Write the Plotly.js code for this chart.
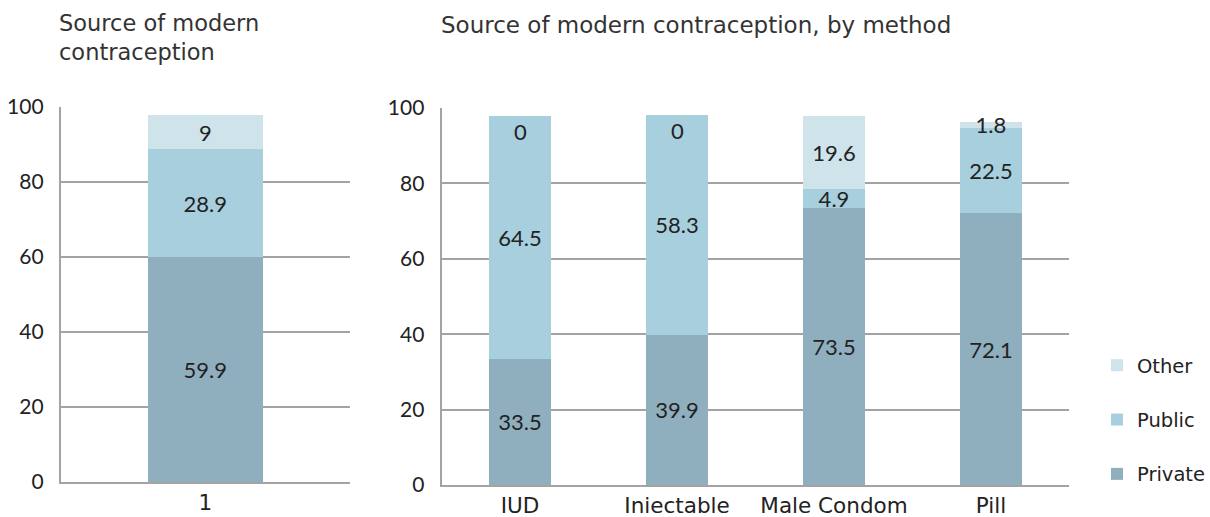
<!DOCTYPE html>
<html>
<head>
<meta charset="utf-8">
<script src="https://cdn.plot.ly/plotly-3.0.1.min.js"></script>
<style>html,body{margin:0;padding:0;background:#fff;}#chart{width:1210px;height:517px;}</style>
</head>
<body>
<div id="chart"></div>
<script>
// ---- data ----
const overallCategory = ['1'];
const overallPrivate = [59.9];
const overallPublic = [28.9];
const overallOther = [9];

const methodCategories = ['IUD', 'Iniectable', 'Male Condom', 'Pill'];
const methodPrivate = [33.5, 39.9, 73.5, 72.1];
const methodPublic = [64.5, 58.3, 4.9, 22.5];
const methodOther = [0, 0, 19.6, 1.8];

const seriesNames = ['Private', 'Public', 'Other'];
const seriesColors = ['#8fafbf', '#a8cfdd', '#cfe3eb'];
const legendRanks = [3, 2, 1];

const titleLeft = 'Source of modern<br>contraception';
const titleRight = 'Source of modern contraception, by method';

// ---- build ----
const NUMFONT = 'Lato, "Open Sans", sans-serif';
const WORDFONT = '"DejaVu Sans", Lato, sans-serif';
const TXT = '#222222';
const GRID = '#a3a3a3';

function barTrace(x, y, i, xa, ya, showlegend) {
  const t = {
    type: 'bar', x: x, y: y, name: seriesNames[i],
    xaxis: xa, yaxis: ya,
    marker: {color: seriesColors[i], line: {width: 0}},
    text: y.map(v => v === 0 ? '' : String(v)),
    textposition: 'inside', insidetextanchor: 'middle',
    constraintext: 'none', textangle: 0,
    textfont: {family: NUMFONT, size: 22, color: TXT},
    showlegend: showlegend,
    hoverinfo: 'x+y+name'
  };
  if (showlegend) { t.legendgroup = seriesNames[i]; t.legendrank = legendRanks[i]; }
  return t;
}

const leftSeries = [overallPrivate, overallPublic, overallOther];
const rightSeries = [methodPrivate, methodPublic, methodOther];
const traces = [];
leftSeries.forEach((s, i) => traces.push(barTrace(overallCategory, s, i, 'x', 'y', false)));
rightSeries.forEach((s, i) => traces.push(barTrace(methodCategories, s, i, 'x2', 'y2', true)));

// labels for zero-valued top segments (placed at top of stack)
const annotations = [];
methodCategories.forEach((c, k) => {
  if (methodOther[k] === 0) {
    const top = methodPrivate[k] + methodPublic[k] + methodOther[k];
    annotations.push({xref: 'x2', yref: 'y2', x: c, y: top, yanchor: 'top', xanchor: 'center',
      text: String(methodOther[k]), showarrow: false,
      font: {family: NUMFONT, size: 22, color: TXT}});
  }
});
annotations.push({xref: 'paper', yref: 'paper', x: 57/1210, xanchor: 'left', y: (517-37)/517, yanchor: 'middle',
  text: titleLeft, showarrow: false, align: 'left', font: {family: WORDFONT, size: 22.5, color: '#333'}});
annotations.push({xref: 'paper', yref: 'paper', x: 440/1210, xanchor: 'left', y: (517-25)/517, yanchor: 'middle',
  text: titleRight, showarrow: false, align: 'left', font: {family: WORDFONT, size: 23, color: '#333'}});

function yaxisCfg(domain, anchor) {
  return {domain: domain, anchor: anchor, range: [0, 100], dtick: 20, tick0: 0,
    showgrid: true, gridcolor: GRID, gridwidth: 2, zeroline: false,
    showline: true, linecolor: GRID, linewidth: 2, ticks: '',
    tickfont: {family: NUMFONT, size: 21, color: TXT}, ticklabelstandoff: 11, fixedrange: true};
}
function xaxisCfg(domain, anchor) {
  return {domain: domain, anchor: anchor, type: 'category', showgrid: false, zeroline: false,
    showline: true, linecolor: GRID, linewidth: 2, ticks: '',
    tickfont: {family: WORDFONT, size: 21.5, color: TXT}, ticklabelstandoff: 0, fixedrange: true};
}

const layout = {
  width: 1210, height: 517,
  margin: {l: 0, r: 0, t: 0, b: 0},
  paper_bgcolor: '#fff', plot_bgcolor: '#fff',
  barmode: 'stack', bargap: 0.6,
  font: {family: WORDFONT, color: TXT},
  xaxis: xaxisCfg([61/1210, 351/1210], 'y'),
  yaxis: yaxisCfg([(517-482)/517, (517-107)/517], 'x'),
  xaxis2: xaxisCfg([443/1210, 1073/1210], 'y2'),
  yaxis2: yaxisCfg([(517-485)/517, (517-108)/517], 'x2'),
  showlegend: true,
  legend: {x: 1101/1210, xanchor: 'left', y: (517-346)/517, yanchor: 'top',
    traceorder: 'grouped', tracegroupgap: 26,
    font: {family: WORDFONT, size: 19.5, color: TXT}, bgcolor: 'rgba(0,0,0,0)'},
  annotations: annotations
};

Plotly.newPlot('chart', traces, layout, {displayModeBar: false, staticPlot: true});
</script>
</body>
</html>
